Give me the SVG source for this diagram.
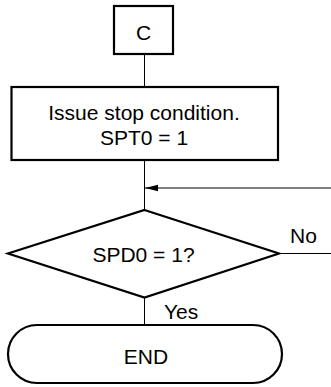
<svg xmlns="http://www.w3.org/2000/svg" width="331" height="387" viewBox="0 0 331 387">
<style>
.shape{fill:#fff;stroke:#000;stroke-width:2.2}
.conn{fill:none;stroke:#000;stroke-width:1}
text{font-family:"Liberation Sans",Arial,sans-serif;font-size:21px;fill:#000}
.c{text-anchor:middle}
</style>
<defs>
<marker id="ah" markerUnits="userSpaceOnUse" markerWidth="14" markerHeight="8" refX="13" refY="4" orient="auto">
<path d="M0,0.8 L13,4 L0,7.2 Z" fill="#000"/>
</marker>
</defs>
<g id="connectors">
<line class="conn" x1="144.5" y1="54" x2="144.5" y2="87"/>
<line class="conn" x1="144.5" y1="160" x2="144.5" y2="210"/>
<line class="conn" x1="331" y1="188" x2="145" y2="188" marker-end="url(#ah)"/>
<line class="conn" x1="279" y1="253.5" x2="331" y2="253.5"/>
<line class="conn" x1="144.5" y1="298" x2="144.5" y2="325"/>
<text x="290" y="242.5">No</text>
<text x="164" y="318.5">Yes</text>
</g>
<g id="nodeC">
<rect class="shape" x="114" y="6" width="59" height="48"/>
<text class="c" x="143.5" y="40">C</text>
</g>
<g id="nodeIssue">
<rect class="shape" x="11.5" y="87" width="266.5" height="73"/>
<text class="c" x="144" y="120">Issue stop condition.</text>
<text class="c" x="144" y="145">SPT0 = 1</text>
</g>
<g id="nodeDecision">
<polygon class="shape" points="144.5,210 279,253.5 144.5,297.5 8,253.5"/>
<text class="c" x="143.5" y="261.5">SPD0 = 1?</text>
</g>
<g id="nodeEnd">
<rect class="shape" x="8" y="325" width="274" height="58" rx="29" ry="29"/>
<text class="c" x="146" y="363.5">END</text>
</g>
</svg>
